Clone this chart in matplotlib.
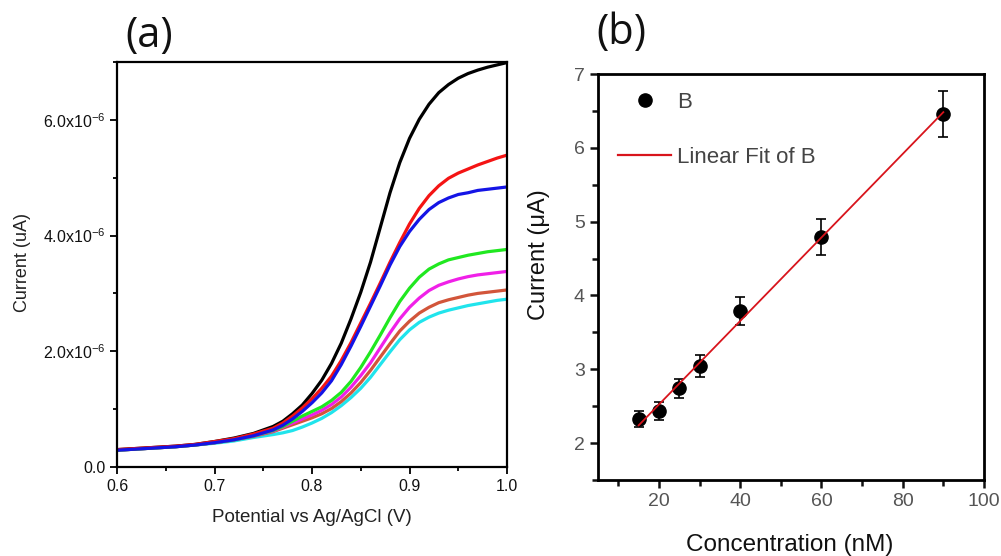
import matplotlib
matplotlib.use('Agg')

import matplotlib.pyplot as plt
import numpy as np
from matplotlib.ticker import MultipleLocator, FuncFormatter
from matplotlib.lines import Line2D

# Linear sweep voltammograms, current in units of 1e-6 A
potential = [0.60, 0.62, 0.64, 0.66, 0.68, 0.70, 0.72, 0.74, 0.76,
             0.77, 0.78, 0.79, 0.80, 0.81, 0.82, 0.83, 0.84, 0.85,
             0.86, 0.87, 0.88, 0.89, 0.90, 0.91, 0.92, 0.93, 0.94,
             0.95, 0.96, 0.97, 0.98, 0.99, 1.00]

i_black = [0.30, 0.32, 0.34, 0.36, 0.39, 0.44, 0.50, 0.58, 0.70,
           0.79, 0.92, 1.07, 1.27, 1.50, 1.79, 2.14, 2.56, 3.02,
           3.54, 4.14, 4.74, 5.26, 5.68, 6.01, 6.27, 6.47, 6.61,
           6.72, 6.80, 6.86, 6.91, 6.95, 6.99]
i_red = [0.30, 0.32, 0.34, 0.36, 0.39, 0.44, 0.49, 0.57, 0.67,
         0.76, 0.88, 1.02, 1.18, 1.36, 1.57, 1.84, 2.15, 2.49,
         2.83, 3.18, 3.54, 3.88, 4.20, 4.47, 4.69, 4.86, 4.99,
         5.08, 5.15, 5.22, 5.28, 5.34, 5.39]
i_blue = [0.29, 0.31, 0.33, 0.35, 0.38, 0.42, 0.47, 0.54, 0.64,
          0.72, 0.83, 0.96, 1.11, 1.28, 1.49, 1.77, 2.09, 2.43,
          2.78, 3.13, 3.49, 3.81, 4.07, 4.28, 4.45, 4.57, 4.65,
          4.71, 4.74, 4.78, 4.80, 4.82, 4.84]
i_green = [0.29, 0.31, 0.33, 0.35, 0.38, 0.42, 0.47, 0.54, 0.63,
           0.70, 0.79, 0.88, 0.96, 1.04, 1.15, 1.29, 1.48, 1.72,
           1.99, 2.28, 2.58, 2.86, 3.09, 3.28, 3.42, 3.51, 3.58,
           3.62, 3.66, 3.69, 3.72, 3.74, 3.76]
i_magenta = [0.29, 0.31, 0.33, 0.35, 0.38, 0.42, 0.47, 0.54, 0.62,
             0.69, 0.76, 0.83, 0.90, 0.98, 1.08, 1.21, 1.38, 1.58,
             1.80, 2.06, 2.32, 2.56, 2.76, 2.92, 3.05, 3.14, 3.20,
             3.25, 3.29, 3.32, 3.34, 3.36, 3.38]
i_orange = [0.29, 0.31, 0.33, 0.35, 0.38, 0.42, 0.47, 0.53, 0.61,
            0.67, 0.73, 0.79, 0.85, 0.92, 1.01, 1.13, 1.28, 1.46,
            1.67, 1.90, 2.13, 2.35, 2.52, 2.66, 2.76, 2.84, 2.89,
            2.93, 2.97, 3.00, 3.02, 3.04, 3.06]
i_cyan = [0.29, 0.31, 0.33, 0.35, 0.38, 0.41, 0.45, 0.51, 0.56,
          0.59, 0.63, 0.69, 0.76, 0.84, 0.94, 1.06, 1.20, 1.36,
          1.55, 1.77, 1.99, 2.20, 2.37, 2.50, 2.59, 2.66, 2.71,
          2.75, 2.79, 2.82, 2.85, 2.88, 2.90]

# Calibration data
conc = [15, 20, 25, 30, 40, 60, 90]
current = [2.33, 2.43, 2.74, 3.04, 3.79, 4.79, 6.46]
current_err = [0.11, 0.12, 0.13, 0.15, 0.19, 0.24, 0.31]

curves = [
    (i_cyan, '#20e4ec'),
    (i_orange, '#d2553a'),
    (i_magenta, '#f020e8'),
    (i_green, '#20e820'),
    (i_black, '#000000'),
    (i_red, '#f41414'),
    (i_blue, '#1414e6'),
]

plt.rcParams['font.family'] = ['Liberation Sans', 'DejaVu Sans']

fig = plt.figure(figsize=(10.01, 5.56), dpi=100)
ax1 = fig.add_axes([0.1169, 0.1601, 0.3896, 0.7284])
ax2 = fig.add_axes([0.5974, 0.1367, 0.3856, 0.7302])

# ---- panel (a)
for vals, col in curves:
    ax1.plot(potential, np.array(vals) * 1e-6, color=col, lw=2.3,
             solid_capstyle='round', solid_joinstyle='round')

ax1.set_xlim(0.6, 1.0)
ax1.set_ylim(0, 7e-6)
ax1.xaxis.set_major_locator(MultipleLocator(0.1))
ax1.xaxis.set_minor_locator(MultipleLocator(0.05))
ax1.yaxis.set_major_locator(MultipleLocator(2e-6))
ax1.yaxis.set_minor_locator(MultipleLocator(1e-6))


def sci_fmt(v, pos):
    if abs(v) < 1e-12:
        return '0.0'
    return r'$\mathregular{%.1fx10^{-6}}$' % (v * 1e6)


ax1.yaxis.set_major_formatter(FuncFormatter(sci_fmt))
ax1.xaxis.set_major_formatter(FuncFormatter(lambda v, p: '%.1f' % v))

for sp in ax1.spines.values():
    sp.set_linewidth(1.6)
ax1.tick_params(which='both', direction='out', top=False, right=False,
                width=1.4, colors='#111111', labelsize=11.5)
ax1.tick_params(which='major', length=5)
ax1.tick_params(which='minor', length=3)

fig.text(23 / 1001, 1 - 263 / 556, 'Current (uA)', rotation=90,
         ha='center', va='center', fontsize=13, color='#222222')
fig.text(312 / 1001, 1 - 518 / 556, 'Potential vs Ag/AgCl (V)',
         ha='center', va='center', fontsize=13.5, color='#222222')
fig.text(149 / 1001, 1 - 36 / 556, '(a)', ha='center', va='center',
         fontsize=30, family='Open Sans', color='#111111')

# ---- panel (b)
ax2.errorbar(conc, current, yerr=current_err, fmt='none', ecolor='black',
             elinewidth=1.2, capsize=3.5, capthick=1.2, zorder=2)
ax2.plot(conc, current, 'o', color='black', ms=9.5, zorder=3, label='B')

slope, intercept = np.polyfit(conc, current, 1)
fit_x = np.array([conc[0], conc[-1]])
ax2.plot(fit_x, slope * fit_x + intercept, color='#d8141c', lw=1.3,
         zorder=4, label='Linear Fit of B')

ax2.set_xlim(5, 100)
ax2.set_ylim(1.5, 7)
ax2.xaxis.set_major_locator(MultipleLocator(20))
ax2.xaxis.set_minor_locator(MultipleLocator(10))
ax2.yaxis.set_major_locator(MultipleLocator(1))
ax2.yaxis.set_minor_locator(MultipleLocator(0.5))

for sp in ax2.spines.values():
    sp.set_linewidth(2.0)
ax2.tick_params(which='both', direction='out', top=False, right=False,
                width=1.8, colors='#111111', labelsize=14,
                labelcolor='#555555')
ax2.tick_params(which='major', length=6)
ax2.tick_params(which='minor', length=4)

handles = [Line2D([], [], ls='none', marker='o', color='black', ms=9.5),
           Line2D([], [], color='#d8141c', lw=1.6)]
ax2.legend(handles, ['B', 'Linear Fit of B'], loc='upper left',
           bbox_to_anchor=(0.052, 0.955), frameon=False, fontsize=16,
           labelspacing=1.5, handlelength=2.4, handletextpad=0.25,
           borderpad=0, borderaxespad=0, labelcolor='#444444')

fig.text(539 / 1001, 1 - 255 / 556, u'Current (\u03bcA)', rotation=90,
         ha='center', va='center', fontsize=17, color='#111111')
fig.text(790 / 1001, 1 - 545 / 556, 'Concentration (nM)',
         ha='center', va='center', fontsize=17.5, color='#111111')
fig.text(621 / 1001, 1 - 33 / 556, '(b)', ha='center', va='center',
         fontsize=30, family='Open Sans', color='#111111')

fig.savefig('out.png', dpi=100, facecolor='white')
